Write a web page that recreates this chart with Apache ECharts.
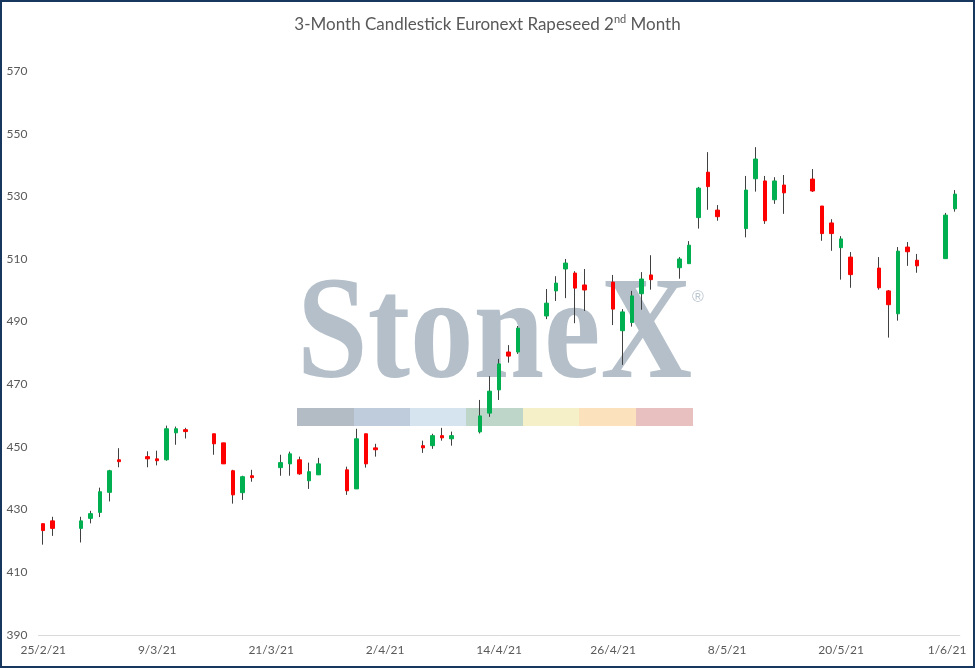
<!DOCTYPE html>
<html>
<head>
<meta charset="utf-8">
<script src="https://cdn.jsdelivr.net/npm/echarts@6/dist/echarts.min.js"></script>
<style>
html,body{margin:0;padding:0;background:#fff;}
#chart{width:975px;height:668px;}
</style>
</head>
<body>
<div id="chart"></div>
<script>
// Trading days (categories) and OHLC values
var tradingDays = [
 '2021-02-25','2021-02-26',
 '2021-03-01','2021-03-02','2021-03-03','2021-03-04','2021-03-05',
 '2021-03-08','2021-03-09','2021-03-10','2021-03-11','2021-03-12',
 '2021-03-15','2021-03-16','2021-03-17','2021-03-18','2021-03-19',
 '2021-03-22','2021-03-23','2021-03-24','2021-03-25','2021-03-26',
 '2021-03-29','2021-03-30','2021-03-31','2021-04-01',
 '2021-04-06','2021-04-07','2021-04-08','2021-04-09',
 '2021-04-12','2021-04-13','2021-04-14','2021-04-15','2021-04-16',
 '2021-04-19','2021-04-20','2021-04-21','2021-04-22','2021-04-23',
 '2021-04-26','2021-04-27','2021-04-28','2021-04-29','2021-04-30',
 '2021-05-03','2021-05-04','2021-05-05','2021-05-06','2021-05-07',
 '2021-05-10','2021-05-11','2021-05-12','2021-05-13','2021-05-14',
 '2021-05-17','2021-05-18','2021-05-19','2021-05-20','2021-05-21',
 '2021-05-24','2021-05-25','2021-05-26','2021-05-27','2021-05-28',
 '2021-05-31','2021-06-01'
];
var openVals = [
 425.5,426.4,
 424.0,427.2,429.1,435.5,445.9,
 446.9,446.2,445.9,454.5,455.5,
 454.2,451.3,442.4,435.4,440.8,
 443.4,444.6,445.9,439.2,441.1,
 442.7,436.6,454.2,449.7,
 450.4,450.4,453.6,452.6,
 454.8,460.8,468.2,480.3,480.3,
 491.8,499.8,506.8,505.5,501.7,
 502.6,487.1,489.7,498.9,504.9,
 507.2,508.5,523.2,537.7,525.6,
 519.7,535.6,534.9,528.9,533.6,
 535.5,526.9,521.5,513.6,510.6,
 507.1,499.8,492.5,513.8,509.6,
 510.1,526.0
];
var closeVals = [
 423.3,424.0,
 426.4,428.7,435.7,442.4,445.3,
 446.2,445.6,455.8,455.8,454.9,
 451.0,444.6,434.7,440.5,440.2,
 445.0,447.8,441.4,442.1,444.6,
 436.0,452.6,444.6,449.1,
 449.7,453.6,452.9,453.6,
 459.9,467.8,476.5,479.0,487.9,
 495.9,502.3,508.7,500.7,500.1,
 494.0,493.1,498.2,503.6,503.4,
 510.0,514.4,532.6,533.1,523.5,
 532.0,541.9,522.2,534.9,531.1,
 531.7,518.1,518.1,516.4,505.0,
 500.8,495.4,512.5,512.3,507.8,
 524.0,530.7
];
var lowVals = [
 418.8,421.6,
 419.5,425.6,427.6,432.6,443.5,
 443.5,444.1,445.6,450.7,452.7,
 447.5,444.6,431.9,433.1,438.9,
 440.8,440.8,441.1,436.6,441.1,
 434.7,436.6,443.4,446.9,
 448.1,449.4,452.0,450.4,
 454.3,459.6,465.0,476.9,479.7,
 490.8,496.6,497.5,489.5,493.4,
 488.9,476.2,488.4,493.8,500.2,
 503.7,508.5,519.7,525.7,522.2,
 516.9,531.5,521.2,527.6,524.4,
 531.4,515.8,512.6,503.4,500.8,
 500.2,484.9,490.3,507.8,505.6,
 510.1,525.1
];
var highVals = [
 425.5,427.7,
 427.7,429.6,437.0,442.7,449.6,
 448.6,448.8,456.8,456.5,456.1,
 454.2,451.3,442.7,440.8,442.7,
 447.5,448.5,446.9,445.0,446.5,
 443.7,455.8,454.2,451.0,
 452.0,454.2,456.1,454.9,
 465.0,472.6,478.1,482.5,488.6,
 500.4,504.5,510.0,506.1,506.8,
 504.9,494.0,499.8,505.8,511.2,
 510.6,515.7,533.0,544.1,527.2,
 536.5,545.7,536.5,536.1,536.8,
 538.7,526.9,522.7,517.3,512.2,
 510.6,500.1,513.8,515.4,511.6,
 524.7,532.0
];
var yTicks = [390,410,430,450,470,490,510,530,550,570];

// Build a calendar-day axis (weekends/holidays left empty)
function pad(n){return (n<10?'0':'')+n;}
function iso(d){return d.getUTCFullYear()+'-'+pad(d.getUTCMonth()+1)+'-'+pad(d.getUTCDate());}
var start = new Date(tradingDays[0]+'T00:00:00Z');
var end = new Date(tradingDays[tradingDays.length-1]+'T00:00:00Z');
var calendar = [];
for (var d = new Date(start); d <= end; d.setUTCDate(d.getUTCDate()+1)) calendar.push(iso(d));
var idx = {};
tradingDays.forEach(function(t,i){idx[t]=i;});
var wickData = [], bodyData = [];
calendar.forEach(function(c){
  var i = idx[c];
  if (i === undefined) { wickData.push('-'); bodyData.push('-'); return; }
  var o = openVals[i], cl = closeVals[i];
  wickData.push([o, cl, lowVals[i], highVals[i]]);
  bodyData.push([o, cl, Math.min(o,cl), Math.max(o,cl)]);
});
function fmtDate(s){
  var p = s.split('-');
  return parseInt(p[2],10)+'/'+parseInt(p[1],10)+'/'+p[0].slice(2);
}

var FONT = 'Lato';
var chart = echarts.init(document.getElementById('chart'), null, {renderer:'canvas'});
chart.setOption({
  animation: false,
  backgroundColor: '#ffffff',
  title: {
    text: '{a|3-Month Candlestick Euronext Rapeseed 2}{b|nd}{a| Month}',
    left: 'center',
    top: 9,
    textStyle: {
      fontWeight: 'normal',
      rich: {
        a: {fontFamily: FONT, fontSize: 17, fontWeight: 'normal', color: '#595959', lineHeight: 22},
        b: {fontFamily: FONT, fontSize: 11, fontWeight: 'normal', color: '#595959', lineHeight: 14, verticalAlign: 'top'}
      }
    }
  },
  grid: {left: 38.5, right: 15.2, top: 71, bottom: 33.1, containLabel: false},
  xAxis: {
    type: 'category',
    data: calendar,
    boundaryGap: true,
    axisLine: {show: true, lineStyle: {color: '#D9D9D9', width: 1}},
    axisTick: {show: false},
    splitLine: {show: false},
    axisLabel: {
      interval: 11,
      margin: 9,
      color: '#595959',
      fontFamily: FONT,
      fontSize: 12,
      formatter: function(v, i){
        var t = fmtDate(v);
        return i === calendar.length-1 ? '{last|'+t+'}' : t;
      },
      rich: {last: {fontFamily: FONT, fontSize: 12, color: '#595959', padding: [0,16,0,0]}}
    }
  },
  yAxis: {
    type: 'value',
    min: yTicks[0],
    max: yTicks[yTicks.length-1],
    interval: 20,
    axisLine: {show: false},
    axisTick: {show: false},
    splitLine: {show: false},
    axisLabel: {color: '#595959', fontFamily: FONT, fontSize: 12, margin: 11}
  },
  graphic: [
    {type: 'text', x: 297, y: 266, scaleX: 0.87, z: -10, silent: true,
     style: {text: 'StoneX', font: 'bold 146px "Liberation Serif"', fill: '#B4BFC9', align: 'left', verticalAlign: 'top'}},
    {type: 'text', x: 692, y: 290, z: -10, silent: true,
     style: {text: '®', font: 'normal 16px "Liberation Sans"', fill: '#BCC6D0', align: 'left', verticalAlign: 'top'}},
    {type: 'group', z: -10, silent: true, children: [
      {type:'rect', shape:{x:297, y:408, width:57, height:18}, style:{fill:'#B3BCC4'}},
      {type:'rect', shape:{x:354, y:408, width:56, height:18}, style:{fill:'#BFCCDB'}},
      {type:'rect', shape:{x:410, y:408, width:56, height:18}, style:{fill:'#D6E4EF'}},
      {type:'rect', shape:{x:466, y:408, width:57, height:18}, style:{fill:'#BED5C9'}},
      {type:'rect', shape:{x:523, y:408, width:56, height:18}, style:{fill:'#F6F0C8'}},
      {type:'rect', shape:{x:579, y:408, width:57, height:18}, style:{fill:'#FBE2BD'}},
      {type:'rect', shape:{x:636, y:408, width:57, height:18}, style:{fill:'#E8C0C0'}}
    ]},
    {type: 'rect', z: 100, silent: true, shape: {x: 1, y: 1, width: 973, height: 666},
     style: {fill: 'none', stroke: '#17375E', lineWidth: 2}}
  ],
  series: [
    {
      name: 'wick', type: 'candlestick', data: wickData, barWidth: 1, z: 2,
      itemStyle: {color: '#404040', color0: '#404040', borderColor: '#404040', borderColor0: '#404040', borderWidth: 1},
      emphasis: {disabled: true}
    },
    {
      name: 'body', type: 'candlestick', data: bodyData, barWidth: 4, z: 3,
      itemStyle: {color: '#00B050', color0: '#FF0000', borderColor: '#00B050', borderColor0: '#FF0000', borderWidth: 1},
      emphasis: {disabled: true}
    }
  ]
});
</script>
</body>
</html>
